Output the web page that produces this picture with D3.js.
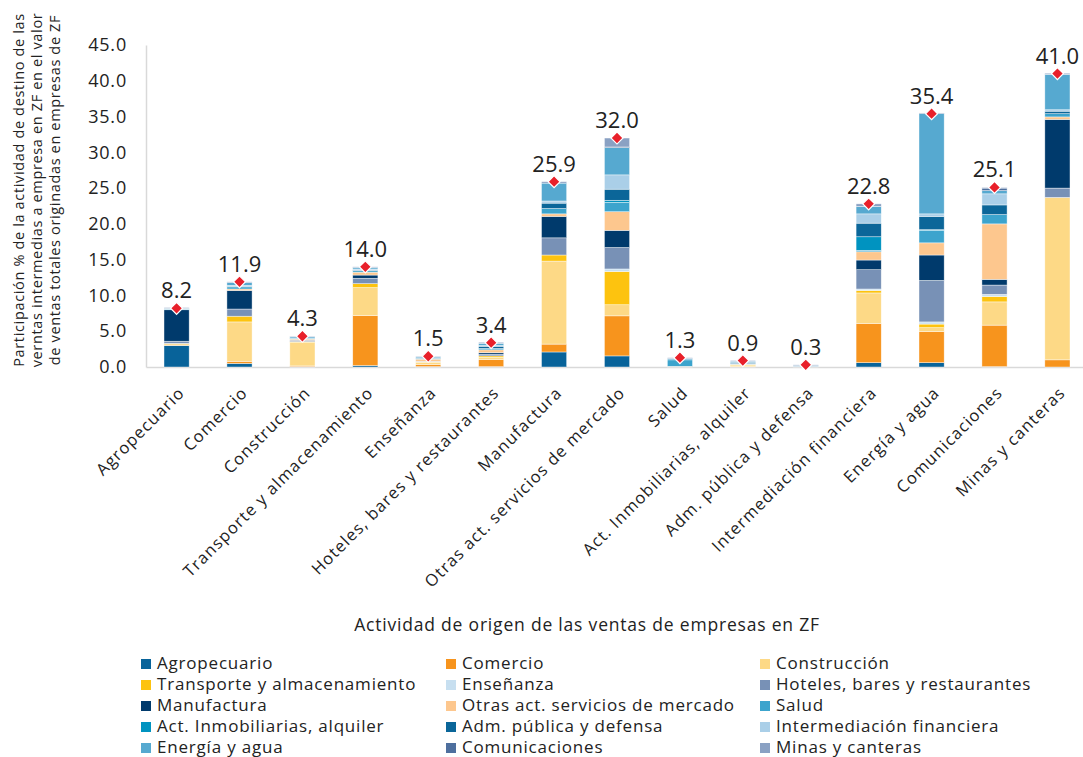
<!DOCTYPE html>
<html><head><meta charset="utf-8">
<script src="https://cdn.jsdelivr.net/npm/d3@7"></script>
<style>body{margin:0;background:#fff}svg{display:block}text{font-family:"Open Sans",Lato,sans-serif}</style>
</head><body><svg id="c" width="1083" height="757"></svg>
<script>
const categories = ["Agropecuario","Comercio","Construcción","Transporte y almacenamiento","Enseñanza","Hoteles, bares y restaurantes","Manufactura","Otras act. servicios de mercado","Salud","Act. Inmobiliarias, alquiler","Adm. pública y defensa","Intermediación financiera","Energía y agua","Comunicaciones","Minas y canteras"];
const seriesNames = ["Agropecuario","Comercio","Construcción","Transporte y almacenamiento","Enseñanza","Hoteles, bares y restaurantes","Manufactura","Otras act. servicios de mercado","Salud","Act. Inmobiliarias, alquiler","Adm. pública y defensa","Intermediación financiera","Energía y agua","Comunicaciones","Minas y canteras"];
const seriesColors = ["#08639a","#f7941d","#fdd986","#fdc30f","#c7dff0","#7891b6","#003a6c","#fdc78e","#3ca4cd","#0093c0","#0b6699","#aacfe8","#56a9d0","#4e6f9e","#8aa1c3"];
// values[series][category]
const sAgropecuario   = [3.0,0.5,0.05,0.2,0.05,0.05,2.1,1.55,0.05,0,0,0.6,0.6,0.05,0];
const sComercio       = [0.05,0.3,0.1,7.0,0.3,1.0,1.1,5.6,0,0.05,0,5.5,4.35,5.8,1.0];
const sConstruccion   = [0.2,5.5,3.3,3.9,0.3,0.3,11.6,1.55,0,0.15,0.05,4.25,0.55,3.25,22.7];
const sTransporte     = [0.05,0.8,0.1,0.55,0.05,0.2,0.85,4.65,0,0.1,0,0.35,0.5,0.75,0];
const sEnsenanza      = [0,0,0,0,0,0,0,0.35,0,0,0,0.2,0.3,0.3,0];
const sHoteles        = [0.3,1.0,0.2,0.75,0.1,0.25,2.4,3.0,0,0,0.05,2.7,5.8,1.3,1.3];
const sManufactura    = [4.4,2.6,0,0.45,0,0.2,3.0,2.4,0,0,0,1.35,3.55,0.8,9.6];
const sOtras          = [0,0.2,0.15,0.4,0.3,0.4,0.35,2.6,0.05,0.1,0,1.15,1.7,7.75,0.35];
const sSalud          = [0.1,0.3,0.1,0.2,0.1,0.2,0.75,1.3,0.9,0.1,0,0.2,1.75,1.3,0.45];
const sInmobiliarias  = [0,0,0,0,0,0,0,0.3,0,0,0,1.9,0.1,0,0];
const sAdm            = [0,0.1,0,0.1,0.05,0.3,0.75,1.55,0,0.15,0,1.9,1.85,1.35,0.35];
const sIntermediacion = [0,0.1,0,0.15,0,0.1,0.3,2.0,0,0,0,1.3,0.35,1.55,0.2];
const sEnergia        = [0.1,0.4,0.2,0.2,0.15,0.3,2.5,3.8,0.2,0.15,0.1,1.05,14.0,0.45,4.95];
const sComunicaciones = [0,0,0,0,0,0,0,0.1,0,0,0,0,0,0.35,0];
const sMinas          = [0.1,0.1,0.1,0.1,0.1,0.15,0.2,1.25,0.1,0.1,0.1,0.35,0.1,0.1,0.15];
const totals = [8.2,11.9,4.3,14.0,1.5,3.4,25.9,32.0,1.3,0.9,0.3,22.8,35.4,25.1,41.0];
const yTicks = [0,5,10,15,20,25,30,35,40,45];
const yTitle = ["Participación % de la actividad de destino de las","verntas intermedias a empresa en ZF en el  valor","de  ventas totales originadas en empresas de ZF"];
const xTitle = "Actividad de origen de las ventas de empresas  en ZF";

const seriesValues = [sAgropecuario,sComercio,sConstruccion,sTransporte,sEnsenanza,sHoteles,sManufactura,sOtras,sSalud,sInmobiliarias,sAdm,sIntermediacion,sEnergia,sComunicaciones,sMinas];
const rows = categories.map((c,i)=>{const r={cat:c}; seriesNames.forEach((s,j)=>r[s]=seriesValues[j][i]); return r;});
const stack = d3.stack().keys(seriesNames)(rows);

const svg = d3.select("#c");
const pL=146, pR=1088, pT=45, pB=367;
const x = d3.scaleBand().domain(categories).range([pL,pR]).paddingInner(0.6).paddingOuter(0.286);
const y = d3.scaleLinear().domain([0,45]).range([pB,pT]);

// axes
const ya = svg.append("g").attr("transform",`translate(${pL},0)`)
  .call(d3.axisLeft(y).tickValues(yTicks).tickFormat(d3.format(".1f")).tickSize(0).tickPadding(19));
ya.select(".domain").attr("stroke","#d9d9d9").attr("stroke-width",1.5);
ya.selectAll("text").attr("font-size",18).attr("fill","#222").attr("letter-spacing","0.8px");

const xa = svg.append("g").attr("transform",`translate(0,${pB})`)
  .call(d3.axisBottom(x).tickSize(0).tickPadding(0));
xa.select(".domain").attr("stroke","#d9d9d9").attr("stroke-width",1.5);
xa.selectAll("text").attr("font-size",16.5).attr("fill","#222").attr("letter-spacing","1.1px")
  .attr("text-anchor","end").attr("dy",0)
  .attr("transform","translate(9,27) rotate(-45)");

// bars
svg.append("g").selectAll("g").data(stack).join("g")
  .attr("fill",(d,i)=>seriesColors[i])
  .selectAll("rect").data(d=>d).join("rect")
  .attr("x",d=>x(d.data.cat)).attr("width",x.bandwidth())
  .attr("y",d=>y(d[1])).attr("height",d=>Math.max(0,y(d[0])-y(d[1])))
  .attr("stroke","#ffffff").attr("stroke-width",0.6).attr("stroke-opacity",0.7);

// markers & labels
const mk = svg.append("g");
mk.selectAll("path").data(totals).join("path")
  .attr("d",d3.symbol(d3.symbolSquare,72))
  .attr("transform",(d,i)=>`translate(${x(categories[i])+x.bandwidth()/2},${y(d)}) rotate(45)`)
  .attr("fill","#e8202a").attr("stroke","#fff").attr("stroke-width",1.2);
mk.selectAll("text").data(totals).join("text")
  .attr("x",(d,i)=>x(categories[i])+x.bandwidth()/2).attr("y",d=>y(d)-10)
  .attr("text-anchor","middle").attr("font-size",22).attr("fill","#222")
  .text(d=>d3.format(".1f")(d));

// y title
const yt = svg.append("text").attr("transform","translate(24,190) rotate(-90)").attr("text-anchor","middle").attr("font-size",14.5).attr("fill","#222").attr("letter-spacing","0.65px");
yTitle.forEach((t,i)=>yt.append("tspan").attr("x",0).attr("dy",i?18:0).text(t));

svg.append("text").attr("x",587).attr("y",631).attr("text-anchor","middle").attr("font-size",17.5).attr("fill","#222").attr("letter-spacing","0.8px").text(xTitle);

// legend
const lg = svg.append("g");
seriesNames.forEach((s,i)=>{
  const col=i%3, row=Math.floor(i/3);
  const lx=[141,446,760][col], ly=664+row*21;
  lg.append("rect").attr("x",lx).attr("y",ly-5).attr("width",10).attr("height",10).attr("fill",seriesColors[i]);
  lg.append("text").attr("x",lx+16).attr("y",ly+5).attr("font-size",17).attr("fill","#222").attr("letter-spacing","0.8px").text(s);
});
</script></body></html>
